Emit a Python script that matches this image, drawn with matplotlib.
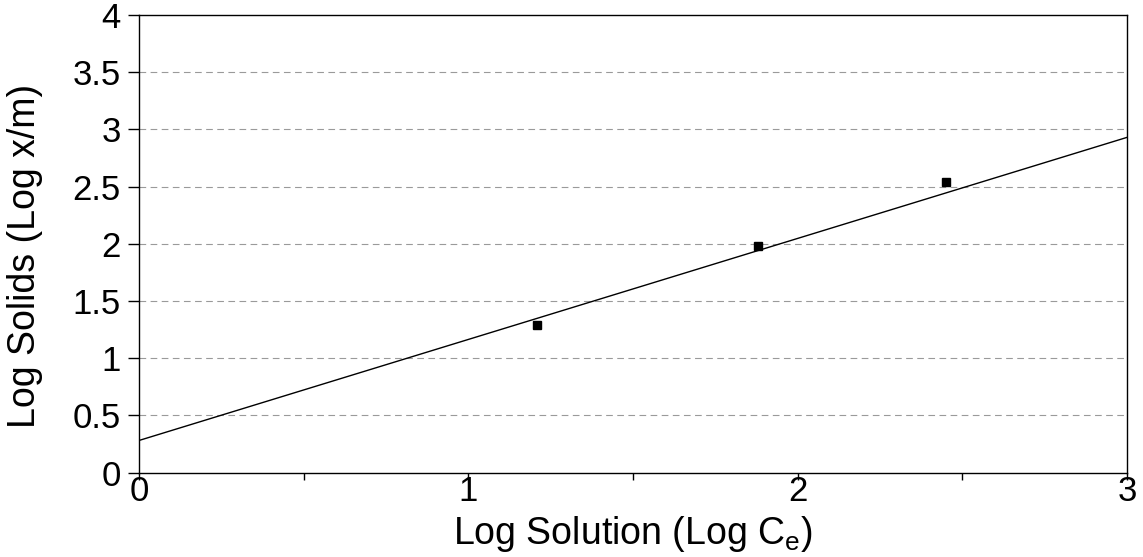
import matplotlib
matplotlib.use("Agg")
import matplotlib.pyplot as plt
import numpy as np

plt.rcParams['font.family'] = ['Liberation Sans', 'DejaVu Sans']

# measured points (log Ce, log x/m)
log_ce = [1.21, 1.88, 2.45]
log_xm = [1.29, 1.98, 2.54]

# fitted line, read at the two ends of the axis
fit_x = [0.0, 3.0]
fit_y = [0.28, 2.93]

x_ticks = [0, 1, 2, 3]
x_minor = [0.5, 1.5, 2.5]
y_ticks = [0, 0.5, 1, 1.5, 2, 2.5, 3, 3.5, 4]
y_labels = ['0', '0.5', '1', '1.5', '2', '2.5', '3', '3.5', '4']

fig = plt.figure(figsize=(11.43, 5.57), dpi=100)
ax = fig.add_axes([139 / 1143, 1 - 472.5 / 557, (1127 - 139) / 1143, (472.5 - 15) / 557])

for y in y_ticks[1:-1]:
    ax.axhline(y, color='#9a9a9a', lw=0.8, ls=(0, (6, 4)), zorder=1)

ax.plot(fit_x, fit_y, color='black', lw=1.0, zorder=2)
ax.plot(log_ce, log_xm, ls='none', marker='s', ms=6, color='black', zorder=3)

ax.set_xlim(0, 3)
ax.set_ylim(0, 4)
ax.set_xticks(x_ticks)
ax.set_xticks(x_minor, minor=True)
ax.set_yticks(y_ticks)
ax.set_yticklabels(y_labels)

ax.tick_params(axis='x', which='both', direction='out', length=5, width=1, labelsize=25, pad=-3)
ax.tick_params(axis='y', direction='out', length=8, width=1, labelsize=25, pad=5)

for s in ax.spines.values():
    s.set_linewidth(1.0)
    s.set_color('black')

fig.text(633 / 1143, 1 - 544 / 557, 'Log Solution (Log C$_\\mathregular{e}$)',
         fontsize=27, ha='center', va='baseline')
fig.text(35 / 1143, 1 - 256 / 557, 'Log Solids (Log x/m)', fontsize=27,
         rotation=90, rotation_mode='anchor', ha='center', va='baseline')

fig.savefig('out.png', dpi=100)
